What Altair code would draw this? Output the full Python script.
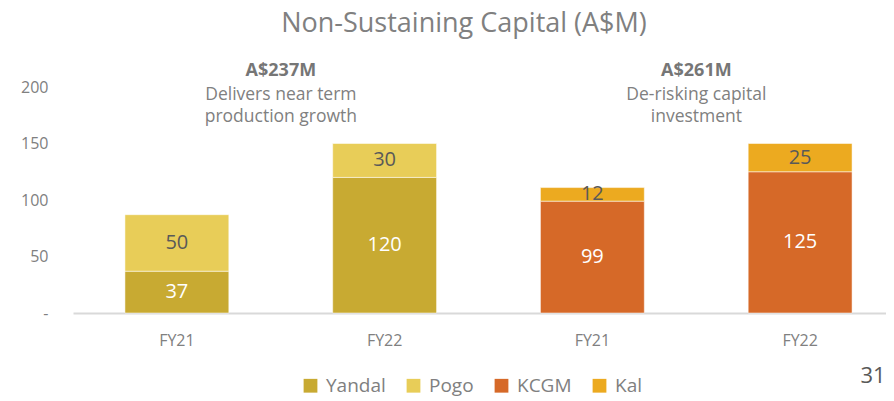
import altair as alt
import pandas as pd

# ---- data ----
bar_keys = ["A_FY21", "A_FY21", "A_FY22", "A_FY22", "B_FY21", "B_FY21", "B_FY22", "B_FY22"]
series = ["Yandal", "Pogo", "Yandal", "Pogo", "KCGM", "Kal", "KCGM", "Kal"]
values = [37, 50, 120, 30, 99, 12, 125, 25]
stack_order = [0, 1, 0, 1, 0, 1, 0, 1]
label_colors = ["white", "dark", "white", "dark", "white", "dark", "white", "dark"]

legend_names = ["Yandal", "Pogo", "KCGM", "Kal"]
legend_colors = ["#C8AA32", "#E8CD58", "#D66928", "#ECAA20"]

ann_keys = ["A_FY21", "B_FY21"]
ann_heads = ["A$237M", "A$261M"]
ann_lines = [["Delivers near term", "production growth"], ["De-risking capital", "investment"]]
ann_head_y = [214, 214]
ann_text_y = [193, 193]

y_ticks = [0, 50, 100, 150, 200]
chart_title = "Non-Sustaining Capital (A$M)"
page_number = "31"

df = pd.DataFrame({"bar": bar_keys, "series": series, "value": values,
                   "ord": stack_order, "lc": label_colors})
ann = pd.DataFrame({"bar": ann_keys, "head": ann_heads, "lines": ann_lines,
                    "hy": ann_head_y, "ty": ann_text_y})

FONT = "Open Sans"
GRAY = "#808080"
SORT = ["A_FY21", "A_FY22", "B_FY21", "B_FY22"]

x_enc = alt.X("bar:N", sort=SORT,
              scale=alt.Scale(range=[0, 831], paddingInner=0.5, paddingOuter=0.25),
              axis=alt.Axis(title=None, labelExpr="split(datum.label, '_')[1]",
                            labelAngle=0, labelFont=FONT, labelFontSize=16, labelColor=GRAY,
                            labelPadding=19, ticks=False, domainColor="#D9D9D9",
                            domainWidth=2, grid=False))
y_scale = alt.Scale(domain=[0, 200], nice=False)

bars = alt.Chart(df).mark_bar(stroke="white", strokeWidth=1, strokeOpacity=0.5).encode(
    x=x_enc,
    y=alt.Y("value:Q", stack="zero", scale=y_scale,
            axis=alt.Axis(title=None, values=y_ticks, ticks=False, domain=False, grid=False,
                          labelExpr="datum.value == 0 ? '-' : datum.label",
                          labelFont=FONT, labelFontSize=16, labelColor=GRAY, labelPadding=25)),
    color=alt.Color("series:N", scale=alt.Scale(domain=legend_names, range=legend_colors),
                    legend=alt.Legend(title=None, orient="none", direction="horizontal",
                                      legendX=228, legendY=289, symbolType="square",
                                      symbolSize=190, symbolStrokeWidth=0,
                                      labelFont=FONT, labelFontSize=19, labelColor=GRAY,
                                      columnPadding=18, labelOffset=6)),
    order=alt.Order("ord:Q"),
)

labels = alt.Chart(df).mark_text(font=FONT, fontSize=20).encode(
    x=alt.X("bar:N", sort=SORT),
    y=alt.Y("value:Q", stack="zero", bandPosition=0.5),
    text=alt.Text("value:Q"),
    color=alt.Color("lc:N", scale=alt.Scale(domain=["white", "dark"], range=["#FFFFFF", "#595959"]),
                    legend=None),
    order=alt.Order("ord:Q"),
)

heads = alt.Chart(ann).mark_text(font=FONT, fontSize=18, fontWeight="bold",
                                 color="#767676", dx=104).encode(
    x=alt.X("bar:N", sort=SORT),
    y=alt.Y("hy:Q"),
    text="head:N",
)

descs = alt.Chart(ann).mark_text(font=FONT, fontSize=17.5, color=GRAY, dx=104,
                                 baseline="middle", lineHeight=22).encode(
    x=alt.X("bar:N", sort=SORT),
    y=alt.Y("ty:Q"),
    text="lines",
)

title = alt.Chart(pd.DataFrame({"t": [chart_title]})).mark_text(
    font=FONT, fontSize=27, color=GRAY, align="center", baseline="alphabetic").encode(
    x=alt.value(391), y=alt.value(-55), text="t:N")

page = alt.Chart(pd.DataFrame({"t": [page_number]})).mark_text(
    font=FONT, fontSize=22, color="#595959", align="center", baseline="middle").encode(
    x=alt.value(800), y=alt.value(289), text="t:N")

chart = alt.layer(bars, labels, heads, descs, title, page).resolve_scale(color="independent").properties(
    width=813, height=226,
    autosize=alt.AutoSizeParams(type="none"),
    padding={"left": 65, "top": 79, "right": 0, "bottom": 86},
).configure_view(stroke=None)

chart.save("out.html", embed_options={"renderer": "svg", "actions": False})
